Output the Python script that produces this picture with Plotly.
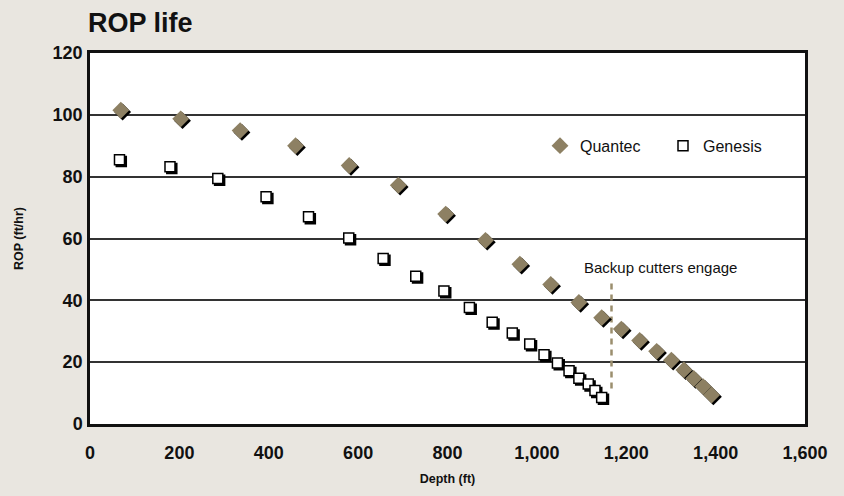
import plotly.graph_objects as go

# ---- data ----
quantec_depth = [69, 203, 336, 460, 580, 690, 796, 885, 962, 1031, 1094, 1145,
                 1189, 1230, 1268, 1301, 1329, 1351, 1372, 1391]
quantec_rop = [101.5, 98.7, 94.9, 90.0, 83.6, 77.2, 67.9, 59.4, 51.7, 45.1, 39.3, 34.4,
               30.7, 27.0, 23.5, 20.6, 17.5, 14.7, 12.1, 9.4]
genesis_depth = [66, 179, 286, 394, 489, 579, 656, 729, 792, 849, 900, 945,
                 984, 1016, 1046, 1072, 1094, 1115, 1130, 1145]
genesis_rop = [85.5, 83.2, 79.4, 73.5, 67.0, 60.2, 53.5, 47.8, 43.0, 37.7, 32.9, 29.4,
               25.9, 22.4, 19.7, 17.2, 14.8, 12.9, 10.8, 8.6]
backup_depth = [1167, 1167]
backup_rop = [11.5, 46.5]
x_ticks = [0, 200, 400, 600, 800, 1000, 1200, 1400, 1600]
x_tick_labels = ["0", "200", "400", "600", "800", "1,000", "1,200", "1,400", "1,600"]
y_ticks = [0, 20, 40, 60, 80, 100, 120]

TAN = "#8d8063"
BG = "#e9e6e0"
FAM = "Liberation Sans, Arial, sans-serif"
TICKFONT = dict(family=FAM, size=18, color="#111111", weight="bold")

X_RANGE = [0, 1600]
Y_RANGE = [0, 120]
# shadow layer: same data, axes shifted by ~2 px so marks appear offset down/right
PX_X = (X_RANGE[1] - X_RANGE[0]) / 715.0
PX_Y = (Y_RANGE[1] - Y_RANGE[0]) / 376.0
SX = 1.8 * PX_X
SY = 1.8 * PX_Y

fig = go.Figure()

# base layer (x/y): dashed marker line
fig.add_trace(go.Scatter(x=backup_depth, y=backup_rop, mode="lines",
                         line=dict(color="#9b8e6e", width=2.5, dash="6px,5px"),
                         showlegend=False, hoverinfo="skip"))

# shadows (x2/y2)
fig.add_trace(go.Scatter(x=genesis_depth, y=genesis_rop, mode="markers", xaxis="x2", yaxis="y2",
                         marker=dict(symbol="square", size=10, color="#000000", line=dict(width=1.5, color="#000000")),
                         showlegend=False, hoverinfo="skip"))
fig.add_trace(go.Scatter(x=quantec_depth, y=quantec_rop, mode="markers", xaxis="x2", yaxis="y2",
                         marker=dict(symbol="diamond", size=13, color="#000000"),
                         showlegend=False, hoverinfo="skip"))

# main marks (x3/y3)
fig.add_trace(go.Scatter(x=quantec_depth, y=quantec_rop, mode="markers", xaxis="x3", yaxis="y3",
                         name="Quantec",
                         marker=dict(symbol="diamond", size=13, color=TAN)))
fig.add_trace(go.Scatter(x=genesis_depth, y=genesis_rop, mode="markers", xaxis="x3", yaxis="y3",
                         name="Genesis",
                         marker=dict(symbol="square", size=10, color="#ffffff", line=dict(width=1.5, color="#000000"))))

fig.add_annotation(x=1277, y=50.6, xref="x", yref="y", text="Backup cutters engage",
                   showarrow=False, font=dict(family=FAM, size=15, color="#111111"))

fig.update_layout(
    width=844, height=496,
    paper_bgcolor=BG, plot_bgcolor="#ffffff",
    margin=dict(l=90, r=39, t=53, b=67),
    title=dict(text="<b>ROP life</b>", x=88 / 844, xanchor="left", y=1 - 23 / 496, yanchor="middle",
               font=dict(family=FAM, size=27, color="#111111")),
    xaxis=dict(range=X_RANGE, tickvals=x_ticks, ticktext=x_tick_labels, showgrid=False, zeroline=False,
               showline=True, linecolor="#111111", linewidth=2.5, mirror=True, ticks="",
               tickfont=TICKFONT, ticklabelstandoff=11,
               title=dict(text="<b>Depth (ft)</b>", standoff=12,
                          font=dict(family=FAM, size=12.5, color="#111111"))),
    yaxis=dict(range=Y_RANGE, tickvals=y_ticks, showgrid=True, gridcolor="#333333", gridwidth=1.5,
               zeroline=False, showline=True, linecolor="#111111", linewidth=2.5, mirror=True, ticks="",
               tickfont=TICKFONT, ticklabelstandoff=1,
               title=dict(text="<b>ROP (ft/hr)</b>", standoff=27,
                          font=dict(family=FAM, size=12.5, color="#111111"))),
    xaxis2=dict(range=[X_RANGE[0] - SX, X_RANGE[1] - SX], overlaying="x", visible=False),
    yaxis2=dict(range=[Y_RANGE[0] + SY, Y_RANGE[1] + SY], overlaying="y", visible=False),
    xaxis3=dict(range=X_RANGE, overlaying="x", visible=False),
    yaxis3=dict(range=Y_RANGE, overlaying="y", visible=False),
    legend=dict(orientation="h", x=(540 - 90) / 715, y=(429 - 147) / 376, xanchor="left", yanchor="middle",
                bgcolor="rgba(0,0,0,0)", entrywidth=78,
                font=dict(family=FAM, size=16, color="#111111")),
    showlegend=True,
)

fig.write_html("out.html", config={"displayModeBar": False},
               post_script="document.body.style.margin='0';document.body.style.overflow='hidden';")
